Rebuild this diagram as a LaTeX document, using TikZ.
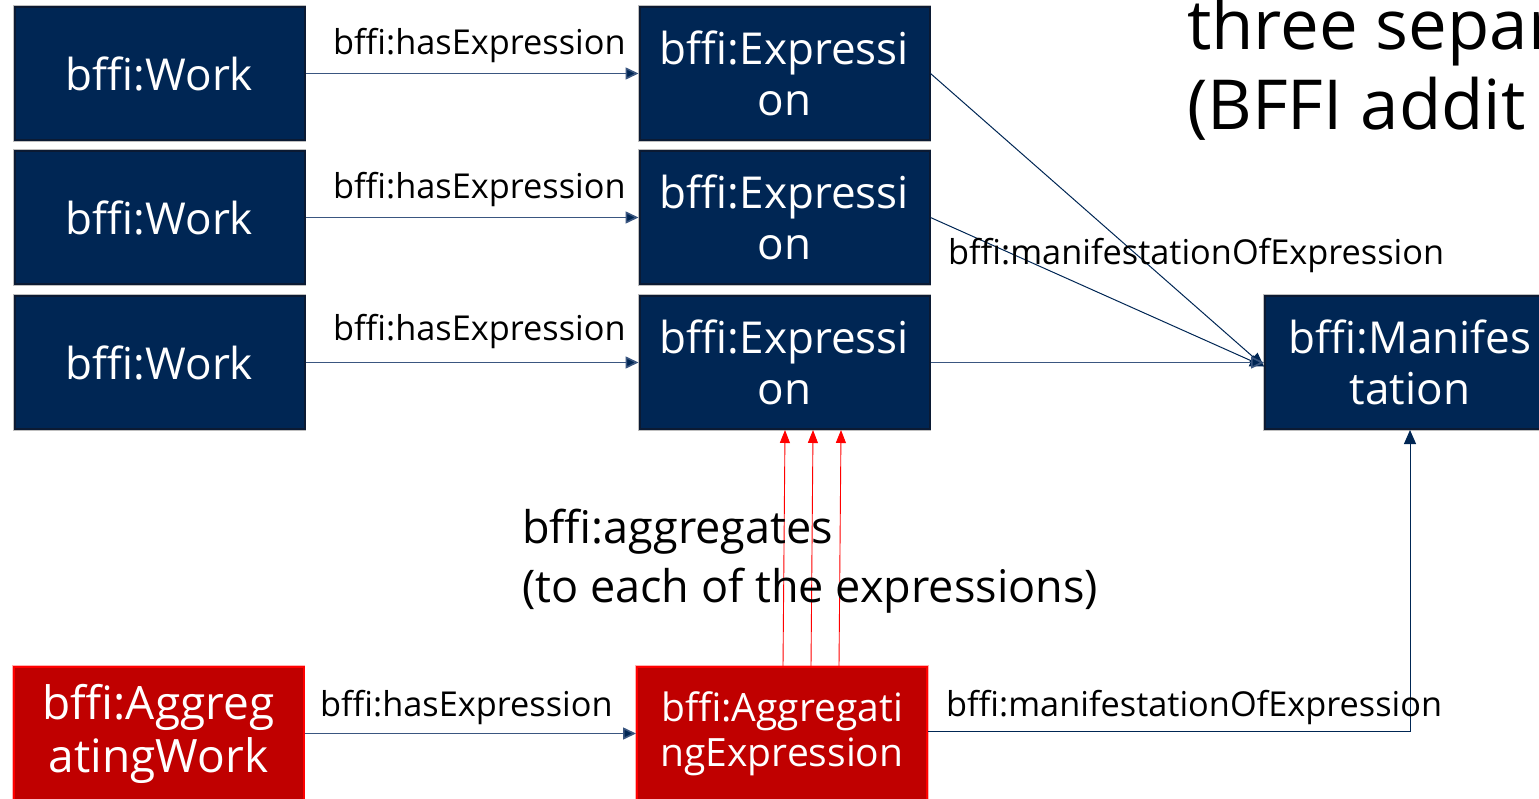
\documentclass[tikz,border=0pt]{standalone}
\usepackage{fontspec}
\setmainfont{Open Sans}
\usetikzlibrary{arrows.meta}
\definecolor{navy}{HTML}{002654}
\definecolor{navyedge}{HTML}{0B1A33}
\definecolor{linec}{HTML}{3A5680}
\definecolor{aggred}{HTML}{C00000}
\definecolor{brightred}{HTML}{FF0000}
\begin{document}
\begin{tikzpicture}[x=1pt,y=-1pt,
  bluebox/.style={preaction={draw=black!25, line width=3.5pt}, draw=navyedge, line width=2pt, fill=navy, text=white, minimum width=290pt, minimum height=133pt, inner sep=0pt, align=center, font=\fontsize{44}{51}\selectfont},
  redbox/.style={preaction={draw=red!30, line width=3.5pt}, draw=brightred, line width=2pt, fill=aggred, text=white, minimum width=290pt, minimum height=133pt, inner sep=0pt, align=center},
  elabel/.style={inner sep=0pt, anchor=base west, font=\fontsize{34.3}{40}\selectfont},
  conn/.style={draw=linec, line width=1.6pt, -{Triangle[length=13pt,width=12pt,fill=navy]}},
  diagconn/.style={draw=navy, line width=1pt, -{Triangle[length=14pt,width=12pt,fill=navy]}},
  redarrow/.style={draw=brightred, line width=0.9pt, -{Triangle[length=13pt,width=10pt,fill=brightred]}}
]
\useasboundingbox (0,0) rectangle (1539,799);
\clip (0,0) rectangle (1539,799);
% nodes
\node[bluebox] (w1) at (159.5,73.5) {bffi:Work};
\node[bluebox] (w2) at (159.5,217.5) {bffi:Work};
\node[bluebox] (w3) at (159.5,362.5) {bffi:Work};
\node[bluebox] (e1) at (784.5,73.5) {bffi:Expressi\\on};
\node[bluebox] (e2) at (784.5,217.5) {bffi:Expressi\\on};
\node[bluebox] (e3) at (784.5,362.5) {bffi:Expressi\\on};
\node[bluebox, minimum width=300pt] (m) at (1415,362.5) {\hspace*{-10pt}bffi:Manifes\\\hspace*{-10pt}tation};
\node[redbox, font=\fontsize{46}{53}\selectfont] (aw) at (158.5,733.5) {bffi:Aggreg\\atingWork};
\node[redbox, font=\fontsize{39}{45}\selectfont] (ae) at (782,733.5) {bffi:Aggregati\\ngExpression};
% title
\node[inner sep=0pt, anchor=base west, font=\fontsize{69}{80}\selectfont] (t1) at (1187,50) {three separ};
\node[inner sep=0pt, anchor=base west, font=\fontsize{69}{80}\selectfont] (t2) at (1187,130) {(BFFI addit};
% connectors
\draw[conn] (w1.east) -- (e1.west);
\draw[conn] (w2.east) -- (e2.west);
\draw[conn] (w3.east) -- (e3.west);
\draw[conn] (aw.east) -- (ae.west);
\draw[diagconn] (e1.east) -- ([yshift=-4pt]m.west);
\draw[diagconn] (e2.east) -- ([yshift=-4pt]m.west);
\draw[conn] (e3.east) -- (m.west);
\draw[diagconn] ([yshift=2pt]ae.east) -| ([xshift=-5pt]m.south);
\draw[redarrow] ([xshift=1pt]ae.north) -- ([xshift=0.5pt]e3.south);
\draw[redarrow] ([xshift=29pt]ae.north) -- ([xshift=28.5pt]e3.south);
\draw[redarrow] ([xshift=57pt]ae.north) -- ([xshift=56.5pt]e3.south);
% labels
\node[elabel] (l1) at (333,55) {bffi:hasExpression};
\node[elabel] (l2) at (333,199) {bffi:hasExpression};
\node[elabel] (l3) at (333,341) {bffi:hasExpression};
\node[elabel] (l4) at (320,716) {bffi:hasExpression};
\node[elabel] (l5) at (948,265) {bffi:manifestationOfExpression};
\node[elabel] (l6) at (946,716) {bffi:manifestationOfExpression};
\node[inner sep=0pt, anchor=base west, align=left, font=\fontsize{45}{59}\selectfont] (agg) at (522,602) {bffi:aggregates\\(to each of the expressions)};
\end{tikzpicture}
\end{document}
